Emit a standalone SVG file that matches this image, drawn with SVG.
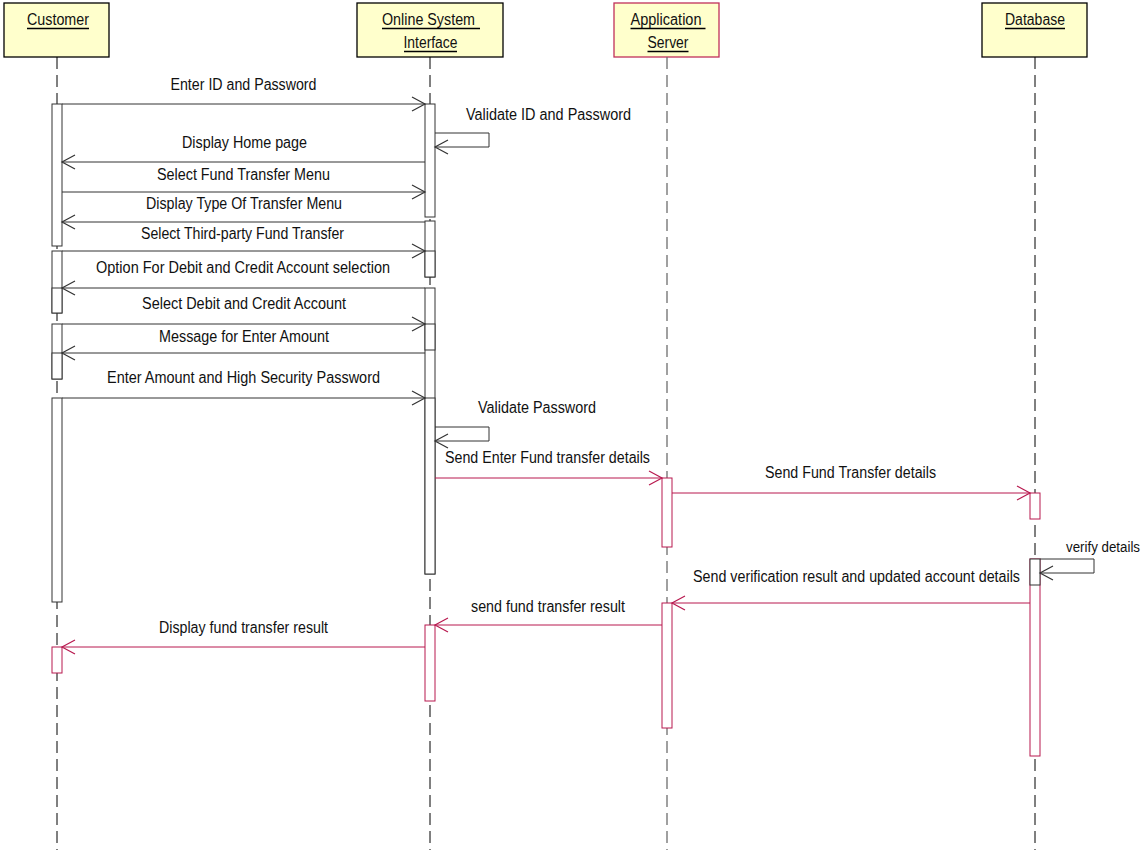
<svg xmlns="http://www.w3.org/2000/svg" width="1144" height="852" viewBox="0 0 1144 852">
<style>
.hdr{fill:#ffffcc;stroke:#000;stroke-width:1.3}
.hdr.r{stroke:#c0305a}
.ul{stroke:#000;stroke-width:1.4}
.ll{stroke:#000;stroke-width:1;stroke-dasharray:12 6;fill:none}
.ll.g{stroke:#6e6e6e;stroke-width:1.3}
.act{fill:#fff;stroke:#333;stroke-width:1}
.act.r{stroke:#b8194f}
.msg{stroke:#333;stroke-width:1;fill:none;marker-end:url(#ah)}
.msg.r{stroke:#b8194f;marker-end:url(#ahr)}
text{font-family:"Liberation Sans",Arial,sans-serif;font-size:16px;fill:#111;text-anchor:middle}
</style>
<defs>
<marker id="ah" markerUnits="userSpaceOnUse" markerWidth="16" markerHeight="16" refX="13" refY="7" orient="auto" overflow="visible"><path d="M0,0 L13,7 L0,14" fill="none" stroke="#333" stroke-width="1.2"/></marker>
<marker id="ahr" markerUnits="userSpaceOnUse" markerWidth="16" markerHeight="16" refX="13" refY="7" orient="auto" overflow="visible"><path d="M0,0 L13,7 L0,14" fill="none" stroke="#b8194f" stroke-width="1.2"/></marker>
</defs>
<rect width="1144" height="852" fill="#fff"/>

<g id="customer">
<rect class="hdr" x="4" y="3" width="105" height="54"/>
<text x="58" y="25" textLength="62" lengthAdjust="spacingAndGlyphs">Customer</text>
<line class="ul" x1="27" y1="28.5" x2="89" y2="28.5"/>
<line class="ll" x1="57" y1="57" x2="57" y2="850"/>
<rect class="act" x="52" y="104" width="10" height="142"/>
<rect class="act" x="52" y="251" width="10" height="62"/>
<rect class="act" x="52" y="288" width="10" height="25"/>
<rect class="act" x="52" y="324" width="10" height="55"/>
<rect class="act" x="52" y="353" width="10" height="26"/>
<rect class="act" x="52" y="398" width="10" height="204"/>
<rect class="act r" x="52" y="647" width="10" height="26"/>
</g>

<g id="online-system-interface">
<rect class="hdr" x="357" y="3" width="146" height="54"/>
<text x="428.5" y="25" textLength="93" lengthAdjust="spacingAndGlyphs">Online System</text>
<line class="ul" x1="382" y1="28.5" x2="480" y2="28.5"/>
<text x="430.5" y="48" textLength="54" lengthAdjust="spacingAndGlyphs">Interface</text>
<line class="ul" x1="404" y1="51.5" x2="457" y2="51.5"/>
<line class="ll" x1="430" y1="57" x2="430" y2="850"/>
<rect class="act" x="425" y="104" width="10" height="113"/>
<rect class="act" x="425" y="221" width="10" height="56"/>
<rect class="act" x="425" y="251" width="10" height="26"/>
<rect class="act" x="425" y="288" width="10" height="286"/>
<rect class="act" x="425" y="324" width="10" height="26"/>
<rect class="act" x="425" y="398" width="10" height="176"/>
<rect class="act r" x="425" y="625" width="10" height="76"/>
</g>

<g id="application-server">
<rect class="hdr r" x="614" y="3" width="105" height="54"/>
<text x="666" y="25" textLength="71" lengthAdjust="spacingAndGlyphs">Application</text>
<line class="ul" x1="630.5" y1="28.5" x2="705.5" y2="28.5"/>
<text x="668" y="48" textLength="41" lengthAdjust="spacingAndGlyphs">Server</text>
<line class="ul" x1="647.5" y1="51.5" x2="688.5" y2="51.5"/>
<line class="ll g" x1="667" y1="57" x2="667" y2="850"/>
<rect class="act r" x="662" y="478" width="10" height="69"/>
<rect class="act r" x="662" y="603" width="10" height="125"/>
</g>

<g id="database">
<rect class="hdr" x="982" y="3" width="105" height="54"/>
<text x="1035" y="25" textLength="60" lengthAdjust="spacingAndGlyphs">Database</text>
<line class="ul" x1="1005" y1="28.5" x2="1065" y2="28.5"/>
<line class="ll" x1="1035" y1="57" x2="1035" y2="850"/>
<rect class="act r" x="1030" y="493" width="10" height="26"/>
<rect class="act r" x="1030" y="559" width="10" height="197"/>
<rect class="act" x="1030" y="559" width="10" height="26"/>
</g>

<g id="connectors">
<line class="msg" x1="62" y1="104" x2="425" y2="104"/>
<text x="243.5" y="90" textLength="146" lengthAdjust="spacingAndGlyphs">Enter ID and Password</text>

<polyline class="msg" points="435,133 489,133 489,147 435,147"/>
<text x="548.5" y="120" textLength="165" lengthAdjust="spacingAndGlyphs">Validate ID and Password</text>

<line class="msg" x1="425" y1="162" x2="62" y2="162"/>
<text x="244.5" y="148" textLength="125" lengthAdjust="spacingAndGlyphs">Display Home page</text>

<line class="msg" x1="62" y1="192" x2="425" y2="192"/>
<text x="243.5" y="180" textLength="173" lengthAdjust="spacingAndGlyphs">Select Fund Transfer Menu</text>

<line class="msg" x1="425" y1="222" x2="62" y2="222"/>
<text x="244" y="209" textLength="196" lengthAdjust="spacingAndGlyphs">Display Type Of Transfer Menu</text>

<line class="msg" x1="62" y1="251" x2="425" y2="251"/>
<text x="242.5" y="239" textLength="203" lengthAdjust="spacingAndGlyphs">Select Third-party Fund Transfer</text>

<line class="msg" x1="425" y1="288" x2="62" y2="288"/>
<text x="243" y="273" textLength="294" lengthAdjust="spacingAndGlyphs">Option For Debit and Credit Account selection</text>

<line class="msg" x1="62" y1="324" x2="425" y2="324"/>
<text x="244" y="309" textLength="204" lengthAdjust="spacingAndGlyphs">Select Debit and Credit Account</text>

<line class="msg" x1="425" y1="353" x2="62" y2="353"/>
<text x="244" y="342" textLength="170" lengthAdjust="spacingAndGlyphs">Message for Enter Amount</text>

<line class="msg" x1="62" y1="398" x2="425" y2="398"/>
<text x="243.5" y="383" textLength="273" lengthAdjust="spacingAndGlyphs">Enter Amount and High Security Password</text>

<polyline class="msg" points="435,427 489,427 489,441 435,441"/>
<text x="537" y="413" textLength="118" lengthAdjust="spacingAndGlyphs">Validate Password</text>

<line class="msg r" x1="435" y1="478" x2="662" y2="478"/>
<text x="547.5" y="463" textLength="205" lengthAdjust="spacingAndGlyphs">Send Enter Fund transfer details</text>

<line class="msg r" x1="672" y1="493" x2="1030" y2="493"/>
<text x="850.5" y="478" textLength="171" lengthAdjust="spacingAndGlyphs">Send Fund Transfer details</text>

<polyline class="msg" points="1040,559 1094,559 1094,573 1040,573"/>
<text x="1103" y="552" style="font-size:14px" textLength="74" lengthAdjust="spacingAndGlyphs">verify details</text>

<line class="msg r" x1="1030" y1="603" x2="672" y2="603"/>
<text x="856.5" y="582" textLength="327" lengthAdjust="spacingAndGlyphs">Send verification result and updated account details</text>

<line class="msg r" x1="662" y1="625" x2="435" y2="625"/>
<text x="548" y="612" textLength="154" lengthAdjust="spacingAndGlyphs">send fund transfer result</text>

<line class="msg r" x1="425" y1="647" x2="62" y2="647"/>
<text x="243.5" y="633" textLength="169" lengthAdjust="spacingAndGlyphs">Display fund transfer result</text>
</g>
</svg>
